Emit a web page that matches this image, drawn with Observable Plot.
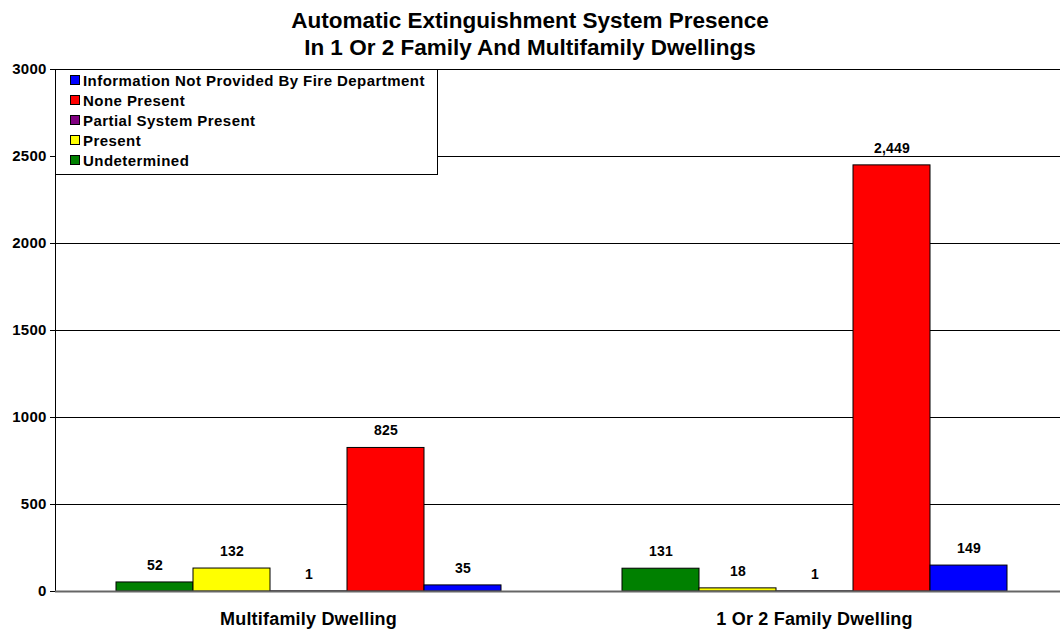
<!DOCTYPE html>
<html>
<head>
<meta charset="utf-8">
<script src="https://cdn.jsdelivr.net/npm/d3@7"></script>
<script src="https://cdn.jsdelivr.net/npm/@observablehq/plot@0.6"></script>
<style>
  body { margin: 0; background: #fff; font-family: "Liberation Sans", Arial, sans-serif; }
  #wrap { position: relative; width: 1060px; height: 633px; overflow: hidden; }
  #chart { width: 1067px; }
  #chart svg { max-width: none !important; }
  #title { height: 60px; box-sizing: border-box; padding-top: 7px; text-align: center; font-weight: bold; font-size: 22.5px; line-height: 27px; color: #000; }
  #legend { position: absolute; left: 55px; top: 69px; width: 383px; height: 106px; box-sizing: border-box; border: 1px solid #000; background: #fff; padding-top: 0px; }
  .item { height: 20px; display: flex; align-items: center; padding-left: 14px; font-weight: bold; font-size: 15px; letter-spacing: 0.45px; color: #000; }
  .sw { width: 8px; height: 8px; border: 1px solid #000; margin-right: 3px; flex: none; }
</style>
</head>
<body>
<div id="wrap">
  <div id="title">Automatic Extinguishment System Presence<br>In 1 Or 2 Family And Multifamily Dwellings</div>
  <div id="chart"></div>
  <div id="legend"></div>
</div>
<script>
const dwellings = ["Multifamily Dwelling", "1 Or 2 Family Dwelling"];
const systemStatus = ["Undetermined", "Present", "Partial System Present", "None Present", "Information Not Provided By Fire Department"];
const multifamilyValues = [52, 132, 1, 825, 35];
const oneOrTwoFamilyValues = [131, 18, 1, 2449, 149];
const statusColors = ["#008000", "#FFFF00", "#800080", "#FF0000", "#0000FF"];
const yTicks = [0, 500, 1000, 1500, 2000, 2500, 3000];

const data = [];
systemStatus.forEach((s, i) => {
  data.push({dwelling: dwellings[0], status: s, value: multifamilyValues[i]});
});
systemStatus.forEach((s, i) => {
  data.push({dwelling: dwellings[1], status: s, value: oneOrTwoFamilyValues[i]});
});

const fmt = d3.format(",");

const chart = Plot.plot({
  width: 1067,
  height: 573,
  marginLeft: 55,
  marginRight: 0,
  marginTop: 9,
  marginBottom: 42,
  style: {fontFamily: "'Liberation Sans', Arial, sans-serif", fontSize: "15px", fontWeight: "bold", color: "#000", background: "#fff", letterSpacing: "0.2px", maxWidth: "none"},
  fx: {domain: dwellings, padding: 0, label: null},
  x: {domain: systemStatus, padding: 0, insetLeft: 59, insetRight: 58, axis: null},
  y: {domain: [0, 3000], ticks: yTicks, line: true, label: null, tickSize: 5, tickPadding: 4, tickFormat: d => String(d)},
  color: {domain: systemStatus, range: statusColors},
  marks: [
    Plot.ruleY(yTicks.filter(d => d > 0), {stroke: "#000", strokeWidth: 1}),
    Plot.barY(data, {fx: "dwelling", x: "status", y: "value", fill: "status", stroke: "#000", strokeWidth: 1}),
    Plot.ruleY([0], {stroke: "#666", strokeWidth: 2}),
    Plot.text(data, {fx: "dwelling", x: "status", y: "value", text: d => fmt(d.value), dy: -17, fontSize: 14, fontWeight: "bold", fill: "#000"}),
    Plot.axisFx({anchor: "bottom", tickSize: 0, tickPadding: 21, fontSize: 18, fontWeight: "bold", label: null})
  ]
});
document.getElementById("chart").appendChild(chart);

const legend = document.getElementById("legend");
systemStatus.map((s, i) => ({s, c: statusColors[i]})).reverse().forEach(({s, c}) => {
  const row = document.createElement("div");
  row.className = "item";
  const sw = document.createElement("span");
  sw.className = "sw";
  sw.style.background = c;
  row.appendChild(sw);
  row.appendChild(document.createTextNode(s));
  legend.appendChild(row);
});
</script>
</body>
</html>
